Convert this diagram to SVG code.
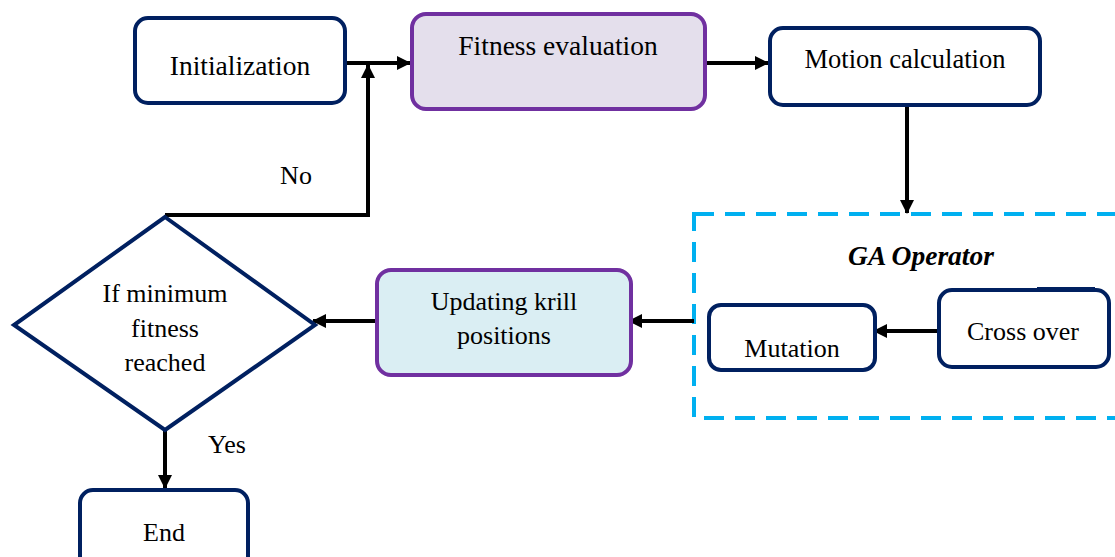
<svg xmlns="http://www.w3.org/2000/svg" width="1115" height="557" viewBox="0 0 1115 557">
<style>
.box{fill:#ffffff;stroke:#002060;stroke-width:4}
.pbox{stroke:#7030A0;stroke-width:4}
.t{font-family:"Liberation Serif","Times New Roman",serif;font-size:26px;fill:#000;text-anchor:middle}
.big{font-size:27.5px}
.c{fill:none;stroke:#000;stroke-width:4}
</style>
<defs>
<marker id="ah" markerUnits="userSpaceOnUse" markerWidth="14" markerHeight="14" refX="13" refY="7" orient="auto">
<path d="M0,0 L14,7 L0,14 z" fill="#000"/>
</marker>
</defs>
<g id="ga-group">
<rect x="694" y="214" width="440" height="204" fill="none" stroke="#00B0F0" stroke-width="4" stroke-dasharray="20 11"/>
<text x="921" y="265" class="t big" style="font-weight:bold;font-style:italic">GA Operator</text>
</g>
<g id="connectors">
<line class="c" x1="347" y1="63" x2="410" y2="63" marker-end="url(#ah)"/>
<polyline class="c" points="165,215 368,215 368,65" marker-end="url(#ah)"/>
<line class="c" x1="707" y1="63" x2="768" y2="63" marker-end="url(#ah)"/>
<line class="c" x1="907" y1="107" x2="907" y2="213" marker-end="url(#ah)"/>
<line class="c" x1="937" y1="331" x2="874" y2="331" marker-end="url(#ah)"/>
<line class="c" x1="694" y1="321" x2="629" y2="321" marker-end="url(#ah)"/>
<line class="c" x1="375" y1="321" x2="313" y2="321" marker-end="url(#ah)"/>
<line class="c" x1="165" y1="430" x2="165" y2="488" marker-end="url(#ah)"/>
<text x="296" y="184" class="t">No</text>
<text x="227" y="453" class="t">Yes</text>
</g>
<g id="init">
<rect class="box" x="135" y="18" width="210" height="85" rx="13"/>
<text x="240" y="75" class="t big">Initialization</text>
</g>
<g id="fitness">
<rect class="pbox" x="412" y="14" width="293" height="95" rx="14" fill="#E4DFEC"/>
<text x="558" y="55" class="t big">Fitness evaluation</text>
</g>
<g id="motion">
<rect class="box" x="770" y="28" width="270" height="77" rx="13"/>
<text x="905" y="68" class="t" style="font-size:26.5px">Motion calculation</text>
</g>
<g id="crossover">
<rect class="box" x="939" y="290" width="170" height="77" rx="13"/>
<line x1="1037" y1="288.5" x2="1095" y2="288.5" stroke="#002060" stroke-width="3"/>
<text x="1023" y="340" class="t">Cross over</text>
</g>
<g id="mutation">
<rect class="box" x="709" y="305" width="166" height="65" rx="12"/>
<text x="792" y="357" class="t">Mutation</text>
</g>
<g id="updating">
<rect class="pbox" x="377" y="270" width="254" height="105" rx="14" fill="#DAEEF3"/>
<text x="504" y="310" class="t">Updating krill</text>
<text x="504" y="344" class="t">positions</text>
</g>
<g id="decision">
<polygon class="box" points="165,217 315,325 165,430 14,325"/>
<text x="165" y="302" class="t">If minimum</text>
<text x="165" y="337" class="t">fitness</text>
<text x="165" y="371" class="t">reached</text>
</g>
<g id="end">
<rect class="box" x="80" y="490" width="168" height="85" rx="13"/>
<text x="164" y="541" class="t">End</text>
</g>
</svg>
